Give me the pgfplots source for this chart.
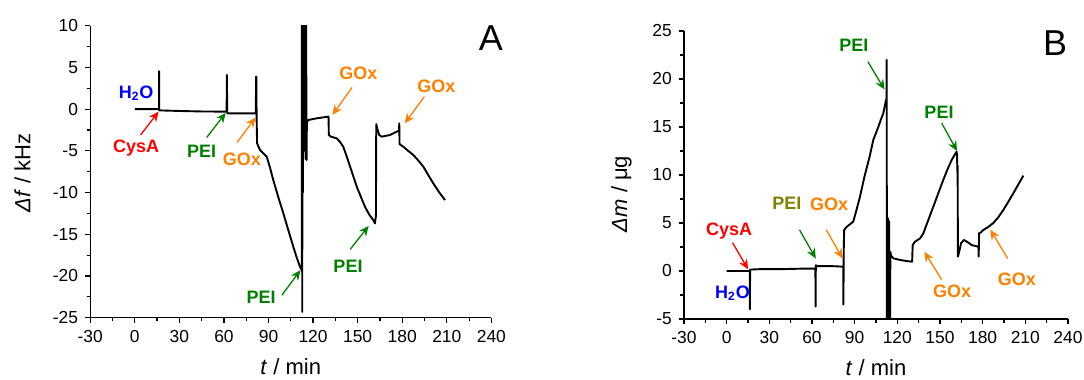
\documentclass[border=0pt]{standalone}
\usepackage{fontspec}
\setmainfont{Liberation Sans}
\usepackage{pgfplots}
\pgfplotsset{compat=1.18}
\usetikzlibrary{arrows.meta}
\definecolor{cRed}{RGB}{255,0,0}
\definecolor{cGreen}{RGB}{0,128,0}
\definecolor{cBlue}{RGB}{0,0,255}
\definecolor{cOrange}{RGB}{255,128,0}
\definecolor{cOlive}{RGB}{128,128,0}

\pgfplotsset{
  myax/.style={
    scale only axis,
    anchor=south west,
    axis x line*=bottom, axis y line*=left,
    axis line style={line width=0.6pt, -},
    tick align=outside,
    major tick length=2.6pt, minor tick length=1.8pt,
    every tick/.append style={black, line width=0.6pt},
    xmin=-30, xmax=240, xtick={-30,0,...,240}, minor x tick num=1,
    minor y tick num=1,
    /pgf/number format/assume math mode=true,
    tick label style={font=\fontsize{8.7}{10}\selectfont},
    label style={font=\fontsize{11}{13}\selectfont},
    xlabel={\textit{t} / min},
    xlabel style={at={(axis description cs:0.5,-0.195)}, anchor=base},
    clip mode=individual,
  },
}
\tikzset{
  ann/.style={font=\fontsize{9}{10}\selectfont\bfseries, inner sep=0pt},
  arr/.style={line width=0.65pt, -{Stealth[length=5pt,width=4.4pt]}},
  curve/.style={black, line width=0.95pt, line join=round},
}

\begin{document}
\begin{tikzpicture}
\path[use as bounding box] (0,0) rectangle (542pt,190pt);

% ---------------- Panel A ----------------
\begin{axis}[myax,
  at={(45.1pt,31.15pt)}, width=200.6pt, height=146pt,
  ymin=-25, ymax=10, ytick={-25,-20,...,10},
  ylabel={\textit{Δf} / kHz},
  ylabel style={at={(axis description cs:-0.169,0.495)}, anchor=center},
]
\addplot[curve] coordinates {
(0,0) (16.3,0) (16.4,4.55) (16.5,-0.15) (30,-0.22) (45,-0.28) (61.8,-0.3)
(62,4.1) (62.2,-0.4) (62.5,-0.5) (81.5,-0.5) (81.6,3.9) (81.8,3.9) (82,-1.0)
(82.3,-4.1) (84.3,-4.9) (86,-5.2) (88.8,-5.7) (91,-7.0) (93.2,-8.5) (96.5,-10.5)
(100,-12.5) (103.5,-14.6) (106.7,-16.5) (109,-17.8) (111.2,-18.9) (112.4,-19.3)
(112.5,12) (112.7,-24.3) (112.9,12) (113.2,-10) (113.4,12) (113.7,-5) (114,12)
(114.3,-4) (114.6,12) (115,-6) (115.3,12) (115.6,-6.1) (115.8,-2) (116,-1.5)
(116.8,-1.3) (122.4,-1.1) (130.2,-0.9) (130.4,-0.9) (130.6,-3.1) (132,-3.3)
(135.9,-3.5) (138,-3.9) (140.3,-4.5) (142.5,-5.6) (144.9,-6.9) (149.4,-9.3)
(154.9,-11.7) (158,-12.7) (160.5,-13.3) (161.6,-13.7) (162.3,-12.8) (162.5,-1.8)
(163,-2.2) (164.5,-3.1) (166.2,-3.3) (171.8,-3.1) (176.3,-2.7) (177.8,-2.6)
(178,-1.7) (178.2,-4.2) (180.7,-4.5) (184,-5.0) (187.5,-5.5) (191,-6.2)
(194.2,-6.9) (197.5,-7.9) (200.9,-8.9) (205,-10.0) (208.8,-10.9)
};
\node[ann, text=cBlue] at (axis cs:0.9,1.9) {H\textsubscript{2}O};
\node[ann, text=cRed] at (axis cs:0.9,-4.7) {CysA};
\draw[arr, cRed] (axis cs:3.9,-3.1) -- (axis cs:16,-0.3);
\node[ann, text=cGreen] at (axis cs:45,-5.0) {PEI};
\draw[arr, cGreen] (axis cs:48.4,-3.4) -- (axis cs:61.2,-0.45);
\node[ann, text=cOrange] at (axis cs:72.1,-6.0) {GOx};
\draw[arr, cOrange] (axis cs:68.8,-4.0) -- (axis cs:81.3,-1.0);
\node[ann, text=cGreen] at (axis cs:85,-22.6) {PEI};
\draw[arr, cGreen] (axis cs:99,-22.3) -- (axis cs:111.5,-19.3);
\node[ann, text=cOrange] at (axis cs:150.4,4.35) {GOx};
\draw[arr, cOrange] (axis cs:146.2,2.6) -- (axis cs:133,-0.7);
\node[ann, text=cGreen] at (axis cs:143.5,-18.8) {PEI};
\draw[arr, cGreen] (axis cs:145,-16.8) -- (axis cs:157.4,-14);
\node[ann, text=cOrange] at (axis cs:203,2.75) {GOx};
\draw[arr, cOrange] (axis cs:194.9,1.5) -- (axis cs:181.7,-1.7);
\node[font=\fontsize{18}{20}\selectfont, inner sep=0pt] at (axis cs:239.6,8.47) {A};
\end{axis}

% ---------------- Panel B ----------------
\begin{axis}[myax,
  at={(342pt,30.5pt)}, width=192pt, height=144pt,
  ymin=-5, ymax=25, ytick={-5,0,...,25},
  ylabel={\textit{Δm} / μg},
  ylabel style={at={(axis description cs:-0.163,0.434)}, anchor=center},
]
\addplot[curve] coordinates {
(0,0) (16.2,0) (16.3,-4.0) (16.5,0.15) (25,0.2) (40,0.2) (55,0.25) (62.4,0.25)
(62.5,-3.7) (62.7,0.6) (64,0.5) (75,0.5) (82,0.45) (82.1,-3.5) (82.3,2.0)
(82.6,4.27) (84.4,4.6) (87,4.9) (89,5.14) (91,6.2) (93.75,7.74) (97,9.9)
(100.5,11.9) (103.1,13.65) (106.6,15.0) (108.5,15.8) (110.1,16.4) (112,17.8)
(112.4,17.9) (112.5,22.0) (112.7,-6) (113.1,-6) (113.3,5.5) (113.6,-6) (114,-6)
(114.2,5.2) (114.5,-6) (114.9,-6) (115.1,2.0) (115.6,1.6) (117.2,1.32)
(121.9,1.15) (126,1.05) (130.1,0.97) (130.4,0.97) (130.8,2.7) (132.4,3.05)
(136,3.4) (138.3,3.93) (141.5,5.2) (145.3,6.7) (148.8,8.1) (152.3,9.48)
(155.3,10.6) (158.2,11.56) (160.3,12.1) (161.7,12.43) (162,12.0) (162.2,10.4)
(162.4,11.0) (162.6,1.5) (163.5,2.0) (164.8,2.9) (166.9,3.23) (169.5,3.0)
(172.3,2.7) (177,2.53) (177.2,1.5) (177.5,3.95) (178.5,4.0) (180.5,4.27)
(184,4.6) (187.5,5.0) (191,5.6) (194.5,6.35) (198,7.2) (201.6,8.1) (205,9.0)
(208.6,9.93)
};
\node[ann, text=cRed] at (axis cs:1.7,4.2) {CysA};
\draw[arr, cRed] (axis cs:4.1,2.95) -- (axis cs:15.1,0.17);
\node[ann, text=cBlue] at (axis cs:4.1,-2.3) {H\textsubscript{2}O};
\node[ann, text=cOlive] at (axis cs:42.4,7.1) {PEI};
\draw[arr, cGreen] (axis cs:51.2,4.3) -- (axis cs:62.7,1.3);
\node[ann, text=cOrange] at (axis cs:72,6.9) {GOx};
\draw[arr, cOrange] (axis cs:70,4.3) -- (axis cs:81.5,1.3);
\node[ann, text=cGreen] at (axis cs:89.5,23.5) {PEI};
\draw[arr, cGreen] (axis cs:99.3,21.8) -- (axis cs:111,18.9);
\node[ann, text=cGreen] at (axis cs:149.3,16.5) {PEI};
\draw[arr, cGreen] (axis cs:151.2,15.4) -- (axis cs:162,12.5);
\node[ann, text=cOrange] at (axis cs:158.5,-2.15) {GOx};
\draw[arr, cOrange] (axis cs:151.2,-0.9) -- (axis cs:139,2.0);
\node[ann, text=cOrange] at (axis cs:204,-0.9) {GOx};
\draw[arr, cOrange] (axis cs:197.6,1.3) -- (axis cs:185.4,4.3);
\node[font=\fontsize{18}{20}\selectfont, inner sep=0pt] at (axis cs:231,23.7) {B};
\end{axis}
\end{tikzpicture}
\end{document}
